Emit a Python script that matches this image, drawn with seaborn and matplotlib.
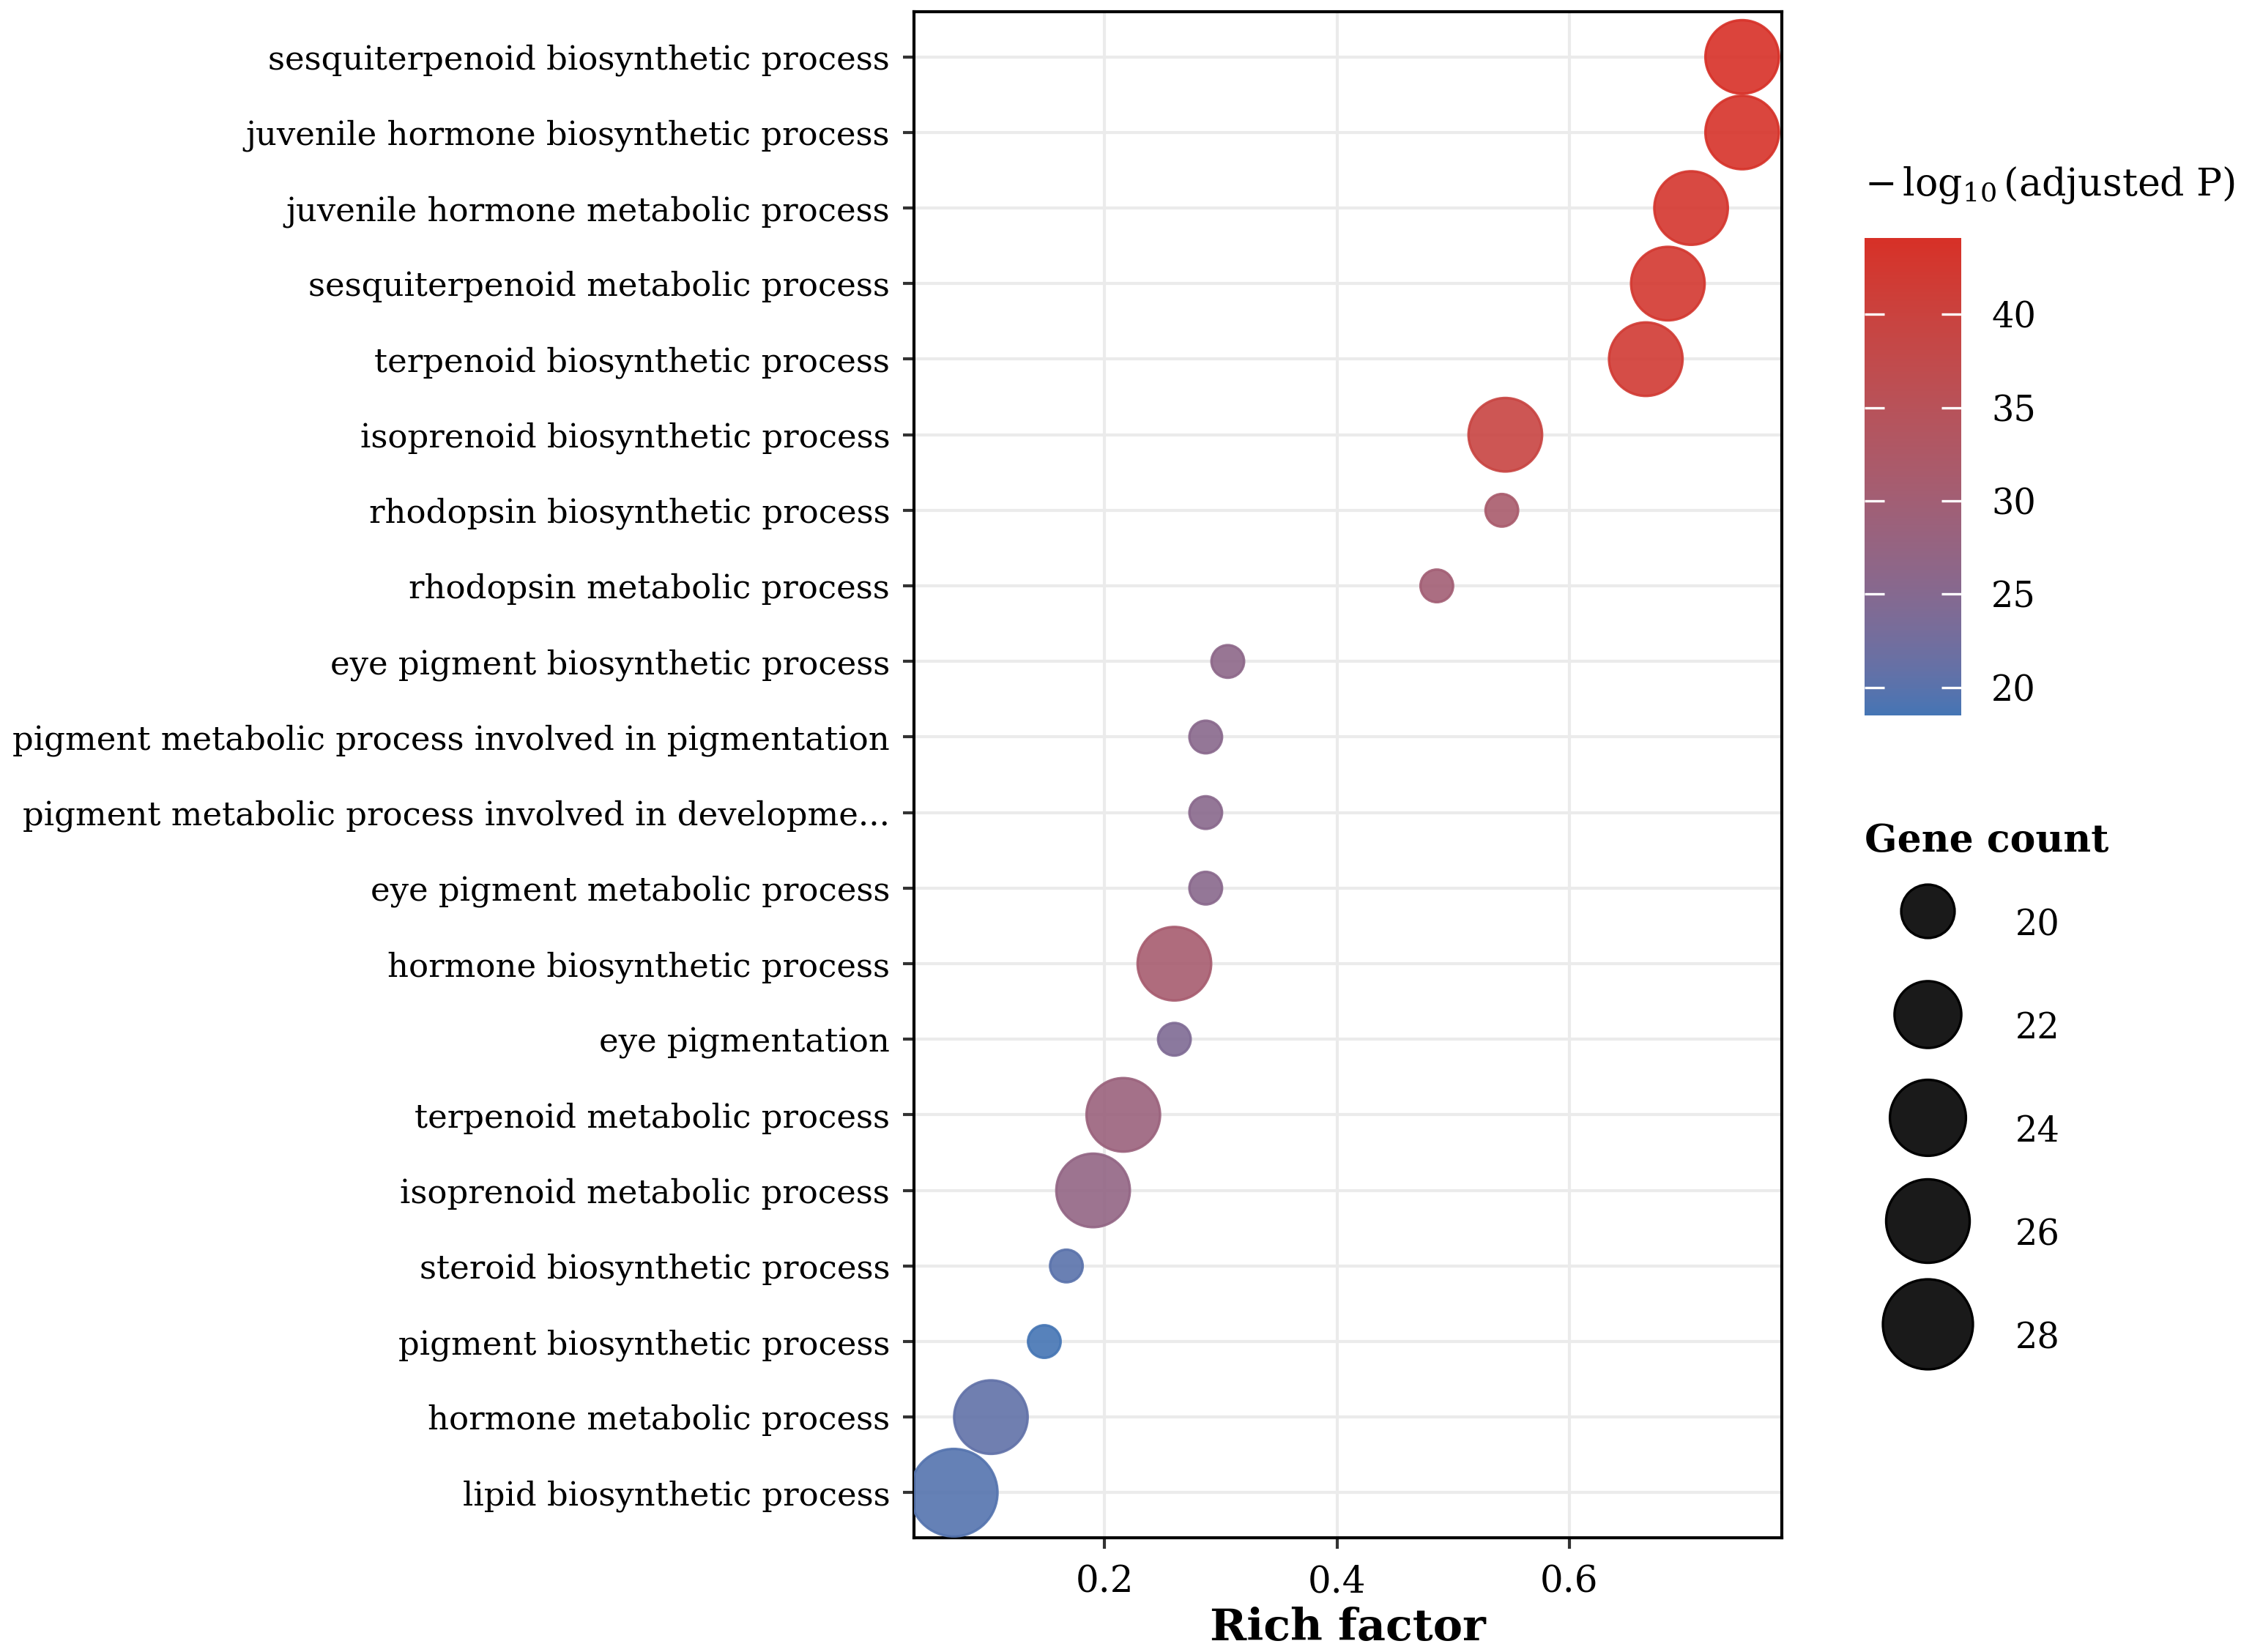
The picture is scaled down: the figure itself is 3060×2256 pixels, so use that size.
import numpy as np
import pandas as pd
import seaborn as sns
import matplotlib.pyplot as plt
from matplotlib.colors import ListedColormap, Normalize, to_rgb
from matplotlib.lines import Line2D
from matplotlib.cm import ScalarMappable

terms = [
    'sesquiterpenoid biosynthetic process',
    'juvenile hormone biosynthetic process',
    'juvenile hormone metabolic process',
    'sesquiterpenoid metabolic process',
    'terpenoid biosynthetic process',
    'isoprenoid biosynthetic process',
    'rhodopsin biosynthetic process',
    'rhodopsin metabolic process',
    'eye pigment biosynthetic process',
    'pigment metabolic process involved in pigmentation',
    'pigment metabolic process involved in developme...',
    'eye pigment metabolic process',
    'hormone biosynthetic process',
    'eye pigmentation',
    'terpenoid metabolic process',
    'isoprenoid metabolic process',
    'steroid biosynthetic process',
    'pigment biosynthetic process',
    'hormone metabolic process',
    'lipid biosynthetic process',
]
rich_factor = [0.749, 0.749, 0.705, 0.685, 0.666, 0.545, 0.542, 0.486, 0.306, 0.287,
               0.287, 0.287, 0.260, 0.260, 0.216, 0.190, 0.167, 0.148, 0.102, 0.070]
gene_count = [24, 24, 24, 24, 24, 24, 19, 19, 19, 19,
              19, 19, 24, 19, 24, 24, 19, 19, 24, 28]
neg_log_padj = [44.1, 43.8, 43.0, 42.6, 42.0, 39.5, 31.5, 30.0, 26.2, 25.6,
                25.6, 25.6, 31.0, 24.2, 28.5, 27.0, 20.0, 18.5, 20.6, 19.5]
size_legend = [20, 22, 24, 26, 28]
cbar_ticks = [20, 25, 30, 35, 40]

df = pd.DataFrame({'term': terms, 'rich': rich_factor, 'count': gene_count, 'padj': neg_log_padj})


# ggplot-like gradient (interpolated in CIELAB)
def srgb_to_lab(c):
    c = np.array(c)
    lin = np.where(c <= 0.04045, c / 12.92, ((c + 0.055) / 1.055) ** 2.4)
    m = np.array([[0.4124, 0.3576, 0.1805], [0.2126, 0.7152, 0.0722], [0.0193, 0.1192, 0.9505]])
    xyz = m @ lin / np.array([0.95047, 1.0, 1.08883])
    f = np.where(xyz > 0.008856, np.cbrt(xyz), 7.787 * xyz + 16 / 116)
    return np.array([116 * f[1] - 16, 500 * (f[0] - f[1]), 200 * (f[1] - f[2])])


def lab_to_srgb(lab):
    fy = (lab[0] + 16) / 116
    f = np.array([fy + lab[1] / 500, fy, fy - lab[2] / 200])
    xyz = np.where(f ** 3 > 0.008856, f ** 3, (f - 16 / 116) / 7.787) * np.array([0.95047, 1.0, 1.08883])
    minv = np.array([[3.2406, -1.5372, -0.4986], [-0.9689, 1.8758, 0.0415], [0.0557, -0.2040, 1.0570]])
    lin = minv @ xyz
    c = np.where(lin <= 0.0031308, 12.92 * lin, 1.055 * np.abs(lin) ** (1 / 2.4) - 0.055)
    return np.clip(c, 0, 1)


low, high = srgb_to_lab(to_rgb('#4575B4')), srgb_to_lab(to_rgb('#D73027'))
cmap = ListedColormap([lab_to_srgb(low + (high - low) * t) for t in np.linspace(0, 1, 256)])
vmin, vmax = min(neg_log_padj), max(neg_log_padj)


def dot_diameter(n):
    # area-style size scale between the smallest and largest gene count
    lo, hi = 11.5, 29.5
    cmin, cmax = min(gene_count), max(gene_count)
    return lo + (hi - lo) * np.sqrt((n - cmin) / (cmax - cmin))


plt.rcParams['font.family'] = ['DejaVu Serif']
plt.rcParams['mathtext.fontset'] = 'dejavuserif'

fig = plt.figure(figsize=(10.2, 7.52), dpi=300)
ax = fig.add_axes([0.408, 0.069, 0.387, 0.924])

sizes = {n: (dot_diameter(n) - 0.8) ** 2 for n in set(gene_count)}
sns.scatterplot(data=df, x='rich', y='term', hue='padj', size='count', sizes=sizes,
                palette=cmap, hue_norm=(vmin, vmax), alpha=0.9, linewidth=0.8,
                legend=False, ax=ax, zorder=3)
for coll in ax.collections:
    coll.set_edgecolor(coll.get_facecolor())

span = max(rich_factor) - min(rich_factor)
ax.set_xlim(min(rich_factor) - 0.05 * span, max(rich_factor) + 0.05 * span)
ax.set_ylim(len(terms) - 0.4, -0.6)
ax.set_xticks([0.2, 0.4, 0.6])
ax.set_xticklabels(['0.2', '0.4', '0.6'])
ax.grid(True, color='#ebebeb', linewidth=1.0, zorder=0)
ax.set_axisbelow(True)
for sp in ax.spines.values():
    sp.set_color('black')
    sp.set_linewidth(1.0)
ax.tick_params(axis='both', length=3.5, width=1.0, color='#333333', labelsize=10.8, labelcolor='black')
ax.tick_params(axis='y', pad=4.5)
ax.tick_params(axis='x', pad=5, labelsize=12)
ax.set_xlabel('Rich factor', fontsize=14.5, fontweight='bold', labelpad=2)
ax.set_ylabel('')

# colour bar
cax = fig.add_axes([0.832, 0.567, 0.043, 0.289])
cbar = fig.colorbar(ScalarMappable(norm=Normalize(vmin, vmax), cmap=cmap), cax=cax, ticks=cbar_ticks)
cbar.outline.set_visible(False)
cax.tick_params(direction='in', color='white', length=6.5, width=0.8, left=True, right=True,
                labelsize=11.5, pad=10)
fig.text(0.832, 0.888, r'$-\,\log_{10}$(adjusted P)', fontsize=12.5, ha='left', va='center')

# size legend
handles = [Line2D([], [], linestyle='', marker='o', markersize=dot_diameter(n),
                  markerfacecolor='#1a1a1a', markeredgecolor='black', markeredgewidth=0.8)
           for n in size_legend]
leg = fig.legend(handles, [str(n) for n in size_legend], title='Gene count',
                 loc='upper left', bbox_to_anchor=(0.832, 0.502), frameon=False,
                 fontsize=11.5, handlelength=3.6, handleheight=3.0, labelspacing=0.75,
                 handletextpad=0.7, borderpad=0, borderaxespad=0, alignment='left')
leg.get_title().set_fontweight('bold')
leg.get_title().set_fontsize(12.5)

fig.savefig('out.png', dpi=300)
